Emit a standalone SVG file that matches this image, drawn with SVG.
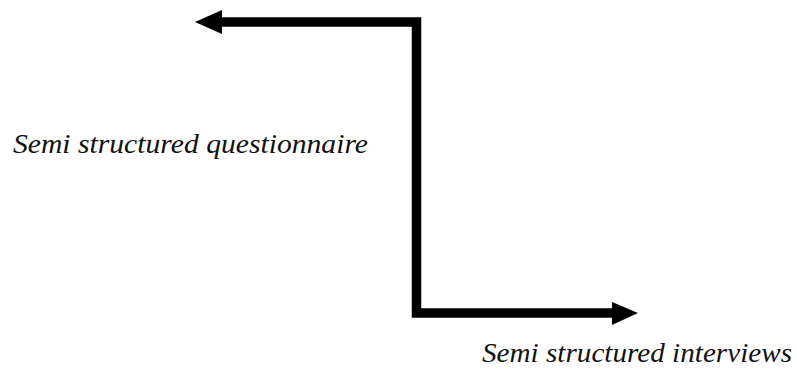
<svg xmlns="http://www.w3.org/2000/svg" width="797" height="371" viewBox="0 0 797 371">
  <defs>
    <style>
      .label { font-family: "Liberation Serif", "Times New Roman", serif; font-style: italic; font-size: 28px; fill: #111; }
      .conn { fill: none; stroke: #000; stroke-width: 9.5; stroke-linejoin: miter; }
      .head { fill: #000; }
    </style>
  </defs>
  <rect width="797" height="371" fill="#fff"/>
  <g id="connectors">
    <polyline class="conn" points="220,22 416.5,22 416.5,313 615,313"/>
    <polygon class="head" points="195,22 222,10 222,34"/>
    <polygon class="head" points="638,313 612,302 612,325"/>
  </g>
  <g id="questionnaire">
    <text class="label" x="13" y="153" textLength="355" lengthAdjust="spacingAndGlyphs">Semi structured questionnaire</text>
  </g>
  <g id="interviews">
    <text class="label" x="482" y="362" textLength="310" lengthAdjust="spacingAndGlyphs">Semi structured interviews</text>
  </g>
</svg>
